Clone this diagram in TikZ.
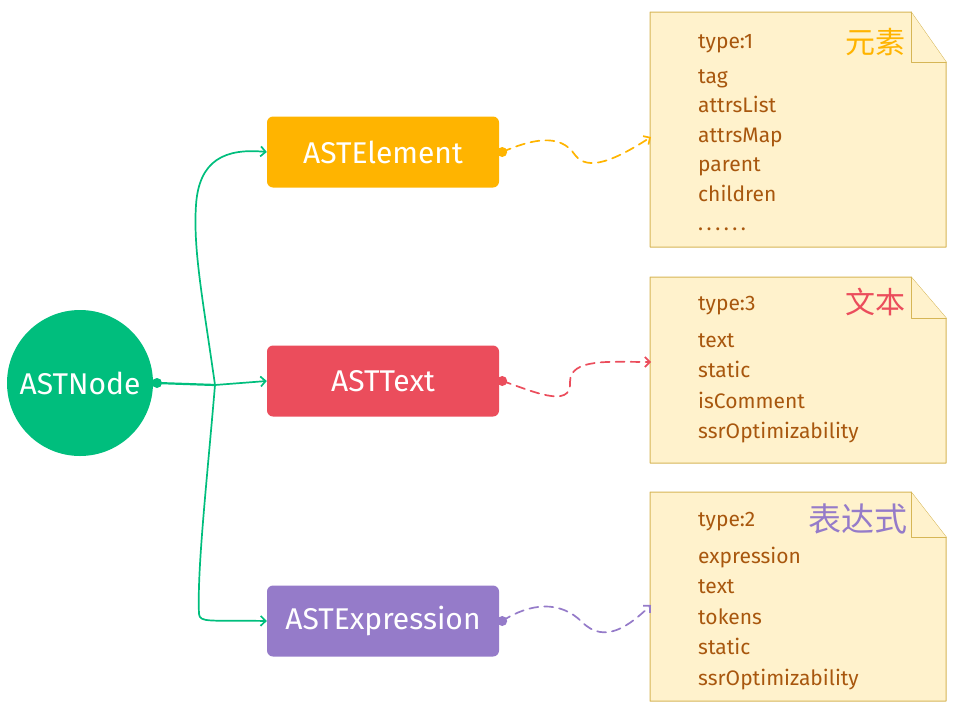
\documentclass[tikz,border=0pt]{standalone}
\usepackage{fontspec}
\setmainfont{Fira Sans}
\newfontfamily\cjk{Noto Sans CJK SC}
\usetikzlibrary{arrows.meta}
\definecolor{nodeG}{HTML}{00BE7D}
\definecolor{eleO}{HTML}{FFB400}
\definecolor{txtR}{HTML}{EB4D5C}
\definecolor{expP}{HTML}{957BC9}
\definecolor{noteF}{HTML}{FFF2CC}
\definecolor{noteD}{HTML}{D6B656}
\definecolor{noteT}{HTML}{A8570E}
\begin{document}
\begin{tikzpicture}[x=1pt, y=-1pt, line join=round, line cap=round, >={Straight Barb[length=5pt,width=10pt]},
	box/.style={rounded corners=6pt, minimum width=232pt, minimum height=71pt, text=white, font=\fontsize{30}{34}\selectfont},
	notetxt/.style={anchor=west, text=noteT, font=\fontsize{21}{24}\selectfont, inner sep=0pt, text height=15pt, text depth=5pt},
	tagtxt/.style={anchor=east, font=\cjk\fontsize{30}{34}\selectfont, inner sep=0pt},
	link/.style={dash pattern=on 9pt off 6pt, line width=1.7pt, ->}]
	\useasboundingbox (0,0) rectangle (955,712);
	% notes
	\foreach \t/\b/\f/\n in {12/247/50/n1, 277/463/41/n2, 492/701/45/n3}{
		\draw[noteD, fill=noteF, line width=1pt] (650,\t)--(911,\t)--(946,\t+\f)--(946,\b)--(650,\b)--cycle;
		\draw[noteD, fill=noteF, line width=1pt] (911,\t)--(911,\t+\f)--(946,\t+\f);}
	\path (651,137)coordinate(n1in) (651,362)coordinate(n2in) (651,605)coordinate(n3in);
	\node[notetxt] at (698,43) {type:1};
	\foreach \s [count=\i] in {tag, attrsList, attrsMap, parent, children, .\,.\,.\,.\,.\,.}
		\node[notetxt] at (698,{78+29.5*(\i-1)}) {\s};
	\node[notetxt] at (698,305) {type:3};
	\foreach \s [count=\i] in {text, static, isComment, ssrOptimizability}
		\node[notetxt] at (698,{342+30.5*(\i-1)}) {\s};
	\node[notetxt] at (698,521) {type:2};
	\foreach \s [count=\i] in {expression, text, tokens, static, ssrOptimizability}
		\node[notetxt] at (698,{558+30.5*(\i-1)}) {\s};
	\node[tagtxt, text=eleO] at (906,42) {元素};
	\node[tagtxt, text=txtR] at (906,302) {文本};
	\node[tagtxt, text=expP, font=\cjk\fontsize{33}{36}\selectfont] at (908,519) {表达式};
	% main nodes
	\node[circle, fill=nodeG, minimum size=146pt, text=white, font=\fontsize{30}{34}\selectfont, inner sep=0pt] (ast) at (80,383) {ASTNode};
	\node[box, fill=eleO] (ele) at (383,152) {ASTElement};
	\node[box, fill=txtR] (txt) at (383,381) {ASTText};
	\node[box, fill=expP] (exp) at (383,621) {ASTExpression};
	\fill[nodeG] (157,383) circle (5pt) coordinate (astdot);
	\coordinate (jn) at (215,385);
	\draw[nodeG, line width=2.2pt] (astdot) -- (jn);
	\draw[nodeG, line width=1.7pt, ->] (jn) .. controls (203,300) and (193,250) .. (196,205) .. controls (199,160) and (225,148) .. (ele.west);
	\draw[nodeG, line width=1.7pt, ->] (jn) -- (txt.west);
	\draw[nodeG, line width=1.7pt, ->] (jn) .. controls (207,480) and (197,570) .. (199,614) .. controls (200,623) and (210,620) .. (exp.west);
	% links to notes
	\foreach \b/\c in {ele/eleO, txt/txtR, exp/expP}
		\fill[\c] ([xshift=3pt]\b.east) circle (5pt) coordinate (\b dot);
	\draw[eleO, link] (eledot) .. controls (530,140) and (560,132) .. (575,155) .. controls (588,172) and (615,160) .. (n1in);
	\draw[txtR, link] (txtdot) .. controls (530,390) and (572,410) .. (570,382) .. controls (570,358) and (610,362) .. (n2in);
	\draw[expP, link] (expdot) .. controls (530,603) and (560,600) .. (582,622) .. controls (605,645) and (630,625) .. (n3in);
\end{tikzpicture}
\end{document}
